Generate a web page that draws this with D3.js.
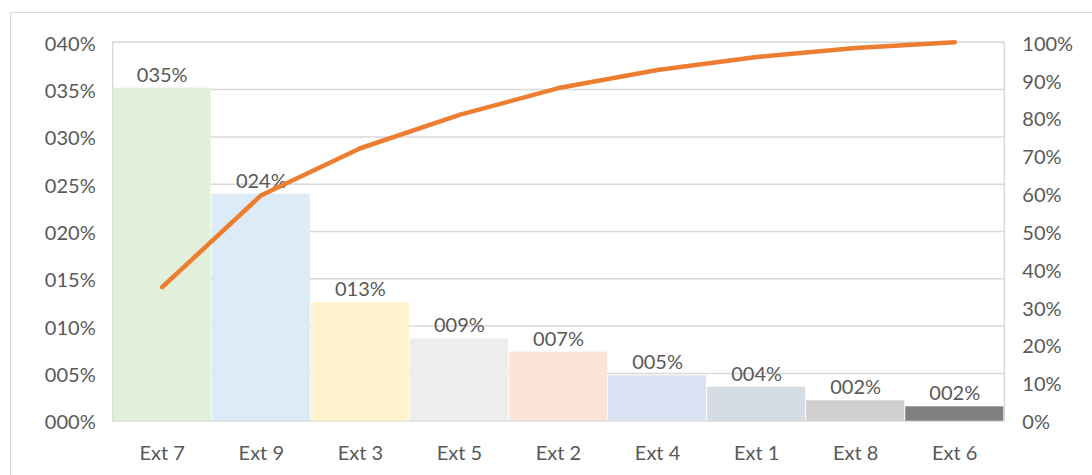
<!DOCTYPE html>
<html>
<head>
<meta charset="utf-8">
<script src="https://cdn.jsdelivr.net/npm/d3@7"></script>
<style>
  html, body { margin: 0; padding: 0; background: #fff; }
  svg { display: block; }
  text { font-family: Lato, "Open Sans", sans-serif; fill: #595959; }
</style>
</head>
<body>
<svg id="chart" width="1092" height="475"></svg>
<script>
// Pareto chart: share per extension (bars) and cumulative share (line)
const categories = ["Ext 7", "Ext 9", "Ext 3", "Ext 5", "Ext 2", "Ext 4", "Ext 1", "Ext 8", "Ext 6"];
const shares = [0.352, 0.240, 0.1255, 0.087, 0.073, 0.048, 0.036, 0.0216, 0.0152];
const cumulative = [0.353, 0.596, 0.720, 0.808, 0.879, 0.927, 0.961, 0.985, 1.000];
const barColors = ["#e2efda", "#ddebf7", "#fff2cc", "#ededed", "#fce4d6", "#d9e1f2", "#d6dce4", "#d0cece", "#808080"];
const leftTicks = [0, 0.05, 0.10, 0.15, 0.20, 0.25, 0.30, 0.35, 0.40];
const rightTicks = [0, 0.1, 0.2, 0.3, 0.4, 0.5, 0.6, 0.7, 0.8, 0.9, 1.0];

const svg = d3.select("#chart");
const plot = { left: 112.7, right: 1004.3, top: 42.3, bottom: 420.7 };
const fontSize = 20;

// zero-padded percentage, e.g. 0.35 -> "035%"
const pad3 = v => String(Math.round(v * 100)).padStart(3, "0") + "%";

const x = d3.scaleBand().domain(categories).range([plot.left, plot.right]).padding(0);
const yL = d3.scaleLinear().domain([0, 0.40]).range([plot.bottom, plot.top]);
const yR = d3.scaleLinear().domain([0, 1]).range([plot.bottom, plot.top]);

// outer chart frame
svg.append("rect")
  .attr("x", 10.5).attr("y", 12.5).attr("width", 1100).attr("height", 500)
  .attr("fill", "none").attr("stroke", "#d9d9d9").attr("stroke-width", 1);

// gridlines
svg.append("g").selectAll("line").data(leftTicks).join("line")
  .attr("x1", plot.left).attr("x2", plot.right)
  .attr("y1", d => yL(d)).attr("y2", d => yL(d))
  .attr("stroke", "#d9d9d9").attr("stroke-width", 1.5);

// plot area frame
svg.append("rect")
  .attr("x", plot.left).attr("y", plot.top)
  .attr("width", plot.right - plot.left).attr("height", plot.bottom - plot.top)
  .attr("fill", "none").attr("stroke", "#d9d9d9").attr("stroke-width", 1.5);

// bars
svg.append("g").selectAll("rect").data(categories).join("rect")
  .attr("x", d => x(d))
  .attr("width", x.bandwidth() - 1)
  .attr("y", (d, i) => yL(shares[i]))
  .attr("height", (d, i) => yL(0) - yL(shares[i]))
  .attr("fill", (d, i) => barColors[i]);

// bar value labels
svg.append("g").selectAll("text").data(categories).join("text")
  .attr("x", d => x(d) + x.bandwidth() / 2)
  .attr("y", (d, i) => yL(shares[i]) - 6)
  .attr("text-anchor", "middle")
  .attr("font-size", fontSize)
  .text((d, i) => pad3(shares[i]));

// cumulative line
const line = d3.line()
  .x((d, i) => x(categories[i]) + x.bandwidth() / 2)
  .y(d => yR(d));
svg.append("path")
  .datum(cumulative)
  .attr("d", line)
  .attr("fill", "none")
  .attr("stroke", "#ed7d31")
  .attr("stroke-width", 4.5)
  .attr("stroke-linecap", "round")
  .attr("stroke-linejoin", "round");

// left axis
const axisL = svg.append("g")
  .attr("transform", `translate(${plot.left - 17},1.5)`)
  .call(d3.axisLeft(yL).tickValues(leftTicks).tickFormat(pad3).tickSize(0).tickPadding(0));
axisL.select(".domain").remove();
axisL.selectAll("text").attr("font-size", fontSize).attr("fill", "#595959")
  .style("font-family", "Lato, 'Open Sans', sans-serif");

// right axis
const axisR = svg.append("g")
  .attr("transform", `translate(${plot.right + 18},1.5)`)
  .call(d3.axisRight(yR).tickValues(rightTicks).tickFormat(d3.format(".0%")).tickSize(0).tickPadding(0));
axisR.select(".domain").remove();
axisR.selectAll("text").attr("font-size", fontSize).attr("fill", "#595959")
  .style("font-family", "Lato, 'Open Sans', sans-serif");

// category axis
const axisB = svg.append("g")
  .attr("transform", `translate(0,${plot.bottom})`)
  .call(d3.axisBottom(x).tickSize(0).tickPadding(25));
axisB.select(".domain").remove();
axisB.selectAll("text").attr("font-size", fontSize).attr("fill", "#595959")
  .style("font-family", "Lato, 'Open Sans', sans-serif");
</script>
</body>
</html>
